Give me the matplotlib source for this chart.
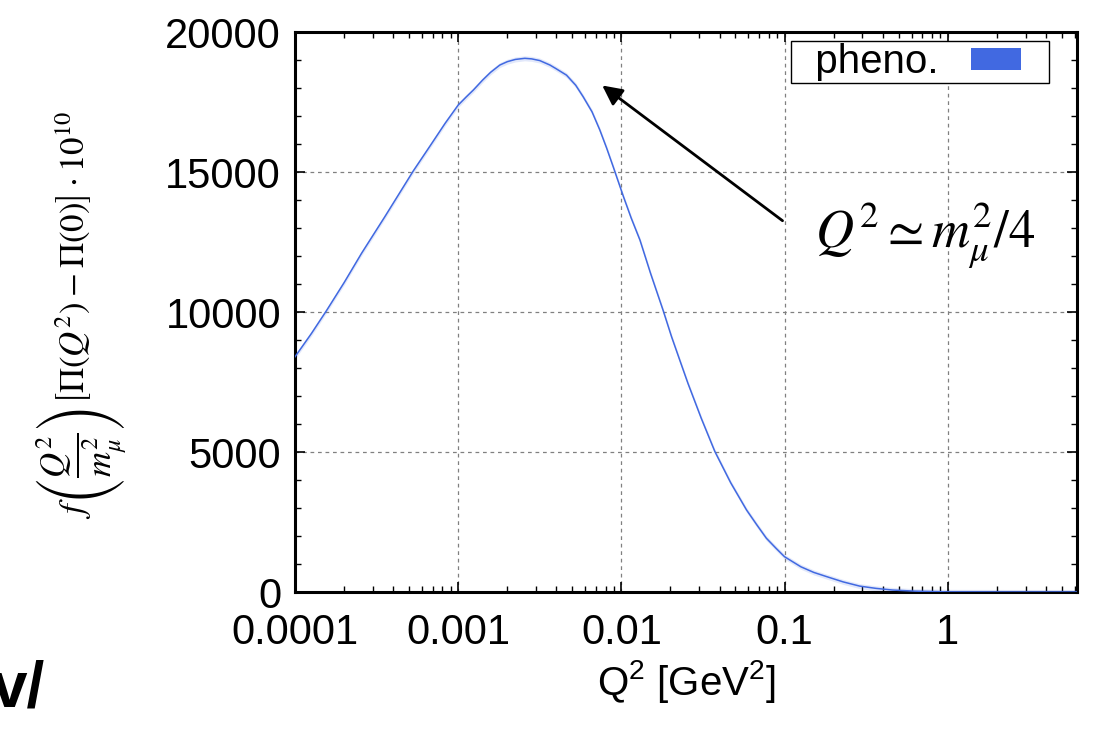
import numpy as np
import matplotlib
matplotlib.use("Agg")
import matplotlib.pyplot as plt
from matplotlib.patches import Patch, Rectangle
from matplotlib.legend_handler import HandlerPatch

plt.rcParams['font.family'] = ['Liberation Sans', 'DejaVu Sans']
plt.rcParams['mathtext.fontset'] = 'custom'
plt.rcParams['mathtext.rm'] = 'Liberation Sans'
plt.rcParams['mathtext.it'] = 'Liberation Sans:italic'

# curve: Q^2 [GeV^2] and value
q2 = [1.00e-4, 1.26e-4, 1.56e-4, 2.00e-4, 2.56e-4, 3.55e-4, 5.31e-4, 6.76e-4,
      8.32e-4, 1.00e-3, 1.12e-3, 1.24e-3, 1.41e-3, 1.58e-3, 1.80e-3, 2.00e-3,
      2.24e-3, 2.56e-3, 2.82e-3, 3.16e-3, 3.65e-3, 3.98e-3, 4.61e-3, 5.25e-3,
      5.83e-3, 6.61e-3, 7.38e-3, 8.13e-3, 8.91e-3, 1.03e-2, 1.15e-2, 1.30e-2,
      1.51e-2, 1.80e-2, 2.03e-2, 2.29e-2, 2.56e-2, 3.09e-2, 3.74e-2, 4.68e-2,
      5.85e-2, 6.76e-2, 7.74e-2, 8.91e-2, 0.100, 0.126, 0.151, 0.181,
      0.229, 0.289, 0.363, 0.460, 0.631, 1.0, 2.51, 6.2]
val = [8400, 9230, 10050, 11050, 12100, 13400, 15040, 15950,
       16740, 17390, 17680, 17930, 18280, 18560, 18820, 18940,
       19020, 19060, 19040, 18980, 18820, 18690, 18460, 18100,
       17690, 17150, 16500, 15850, 15190, 14120, 13350, 12570,
       11380, 10070, 9120, 8250, 7450, 6200, 5020, 3900,
       2930, 2400, 1920, 1550, 1260, 900, 700, 550,
       360, 210, 130, 70, 30, 5, 0, 0]
band = 90

xticks = [1e-4, 1e-3, 1e-2, 1e-1, 1]
xticklabels = ['0.0001', '0.001', '0.01', '0.1', '1']
yticks = [0, 5000, 10000, 15000, 20000]

W, H = 1093, 730
fig = plt.figure(figsize=(W / 100, H / 100), dpi=100)
ax = fig.add_axes([295 / W, 1 - 592 / H, (1077 - 295) / W, (592 - 32) / H])

blue = '#4169e1'
q2 = np.array(q2)
val = np.array(val)
ax.fill_between(q2, val - band, val + band, color=blue, alpha=0.15, lw=0, zorder=2)
ax.plot(q2, val, color=blue, lw=1.1, zorder=3)

ax.set_xscale('log')
ax.set_xlim(1e-4, 6.2)
ax.set_ylim(0, 20000)
ax.set_xticks(xticks)
ax.set_xticklabels(xticklabels)
ax.set_yticks(yticks)
ax.set_yticks(np.arange(0, 20001, 1000), minor=True)

ax.tick_params(which='both', direction='in', top=True, right=True, labelsize=30)
ax.tick_params(which='major', length=7, width=1.2)
ax.tick_params(which='minor', length=4, width=1.0)
ax.tick_params(axis='x', pad=15)
ax.tick_params(axis='y', pad=10)
for s in ax.spines.values():
    s.set_linewidth(2.2)

ax.grid(True, which='major', color='#808080', lw=0.9, linestyle=(0, (3, 3)), zorder=1)

ax.set_xlabel(r'Q$^{\mathrm{2}}$ [GeV$^{\mathrm{2}}$]', fontsize=29, labelpad=4)

fig.text(82 / W, 1 - 315 / H,
         r'$f\left(\dfrac{Q^2}{m_\mu^2}\right)\left[\Pi(Q^2)-\Pi(0)\right]\cdot10^{10}$',
         rotation=90, ha='center', va='center', fontsize=25, math_fontfamily='stix')


def small_patch(legend, orig_handle, xdescent, ydescent, width, height, fontsize):
    # patch in the left part of the handle box, leaving a gap before the frame
    pw = 36
    ph = 15.8
    return Rectangle((-xdescent, -ydescent + (height - ph) / 2), pw, ph)


leg = ax.legend([Patch(facecolor=blue, edgecolor='none')], ['  pheno.'], loc='upper right',
                bbox_to_anchor=((1049 - 295) / 782, (592 - 41) / 560),
                borderaxespad=0, fontsize=29, markerfirst=False, fancybox=False,
                edgecolor='black', framealpha=1, handlelength=1.89, handleheight=0.7,
                borderpad=0.05, handletextpad=0.8,
                handler_map={Patch: HandlerPatch(patch_func=small_patch)})
leg.get_frame().set_linewidth(1.0)

ax.annotate('', xy=(7.4e-3, 18150), xytext=(10 ** (-4 + (785 - 295) / 163.25), 13200),
            arrowprops=dict(arrowstyle='-|>', color='black', lw=2, mutation_scale=30))

fig.text(925 / W, 1 - 247 / H, r'$Q^2 \simeq m_\mu^2/4$', ha='center', va='baseline',
         fontsize=38, math_fontfamily='stix')

fig.text(-8 / W, 1 - 706 / H, 'v/', ha='left', va='baseline', fontsize=46, fontweight='bold')

fig.savefig('out.png', dpi=100)
